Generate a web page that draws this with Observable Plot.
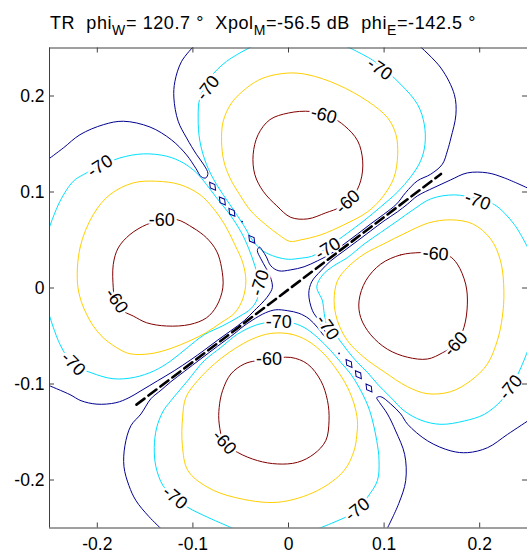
<!DOCTYPE html>
<html>
<head>
<meta charset="utf-8">
<script src="https://cdn.jsdelivr.net/npm/d3@7"></script>
<script src="https://cdn.jsdelivr.net/npm/@observablehq/plot@0.6"></script>
<style>
  html, body { margin: 0; padding: 0; background: #fff; }
</style>
</head>
<body>
<div id="chart"></div>
<script>
// ---- axes ----
const xDomain = [-0.25, 0.25];
const yDomain = [-0.25, 0.25];
const xTicks = [-0.2, -0.1, 0, 0.1, 0.2];
const yTicks = [-0.2, -0.1, 0, 0.1, 0.2];
const tickLabels = ["-0.2", "-0.1", "0", "0.1", "0.2"];

// ---- contour levels (dB) ----
const levels = [-75, -70, -65, -60];
const levelColors = ["#00008f", "#00dfff", "#ffcf00", "#800000"];

// ---- traced contour lines [x, y] ----
const top60 = [[0.000,0.1823],[0.0233,0.1839],[0.0442,0.1782],[0.0588,0.1688],[0.0724,0.1532],[0.0776,0.1324],[0.0755,0.1116],[0.0672,0.0949],[0.0547,0.0845],[0.0390,0.0783],[0.0202,0.0720],[0.0024,0.0736],[-0.0122,0.0855],[-0.0265,0.1008],[-0.0352,0.1181],[-0.0370,0.1389],[-0.0318,0.1597],[-0.0195,0.1753]];
const top65 = [[-0.0007,0.2239],[0.0202,0.2222],[0.0515,0.2118],[0.0829,0.1945],[0.1038,0.1771],[0.1124,0.1597],[0.1142,0.1389],[0.1103,0.1150],[0.0985,0.0949],[0.0826,0.0793],[0.0578,0.0658],[0.0338,0.0554],[0.0132,0.0502],[0.0014,0.0486],[-0.0101,0.0554],[-0.0240,0.0661],[-0.0394,0.0803],[-0.0509,0.0970],[-0.0613,0.1147],[-0.0676,0.1321],[-0.0700,0.1529],[-0.0683,0.1737],[-0.0596,0.1927],[-0.0439,0.2083],[-0.0265,0.2187]];
const top70 = [[-0.0385,0.2515],[-0.0648,0.2361],[-0.0822,0.2187],[-0.0927,0.1979],[-0.0945,0.1771],[-0.0927,0.1529],[-0.0857,0.1285],[-0.0752,0.1077],[-0.0613,0.0869],[-0.0474,0.0661],[-0.0370,0.0488],[-0.0269,0.0387],[-0.0133,0.0325],[0.0003,0.0299],[0.0118,0.0309],[0.0243,0.0330],[0.0338,0.0377],[0.0411,0.0418],[0.0505,0.0491],[0.0620,0.0574],[0.0787,0.0699],[0.0964,0.0845],[0.1142,0.1001],[0.1278,0.1157],[0.1382,0.1324],[0.1427,0.1493],[0.1421,0.1701],[0.1351,0.1910],[0.1177,0.2118],[0.0899,0.2361],[0.0600,0.2520]];

const left60 = [[-0.1170,0.0713],[-0.0997,0.0626],[-0.0857,0.0522],[-0.0752,0.0384],[-0.0700,0.0210],[-0.0687,0.0002],[-0.0752,-0.0188],[-0.0857,-0.0310],[-0.1031,-0.0380],[-0.1275,-0.0396],[-0.1484,-0.0362],[-0.1624,-0.0292],[-0.1752,-0.0227],[-0.1815,-0.0133],[-0.1833,0.0002],[-0.1833,0.0245],[-0.1781,0.0418],[-0.1658,0.0557],[-0.1484,0.0661],[-0.1327,0.0704]];
const left65 = [[-0.2202,0.0002],[-0.2181,0.0418],[-0.2042,0.0765],[-0.1867,0.0973],[-0.1624,0.1095],[-0.1379,0.1112],[-0.1136,0.1077],[-0.0927,0.0973],[-0.0791,0.0835],[-0.0666,0.0658],[-0.0561,0.0450],[-0.0478,0.0262],[-0.0446,0.0075],[-0.0478,-0.0112],[-0.0561,-0.0258],[-0.0707,-0.0362],[-0.0864,-0.0466],[-0.1031,-0.0549],[-0.1240,-0.0633],[-0.1449,-0.0685],[-0.1658,-0.0685],[-0.1797,-0.0622],[-0.1972,-0.0484],[-0.2111,-0.0276]];
const left70 = [[-0.2515,0.0595],[-0.2390,0.0904],[-0.2251,0.1112],[-0.2146,0.1181],[-0.1972,0.1269],[-0.1763,0.1355],[-0.1519,0.1397],[-0.1275,0.1373],[-0.1101,0.1303],[-0.0961,0.1199],[-0.0857,0.1077],[-0.0752,0.0939],[-0.0613,0.0765],[-0.0491,0.0574],[-0.0415,0.0408],[-0.0352,0.0231],[-0.0310,0.0054],[-0.0326,-0.0112],[-0.0394,-0.0216],[-0.0519,-0.0300],[-0.0687,-0.0393],[-0.0882,-0.0487],[-0.1055,-0.0619],[-0.1230,-0.0758],[-0.1404,-0.0862],[-0.1613,-0.0931],[-0.1836,-0.0945],[-0.2066,-0.0882],[-0.2251,-0.0796],[-0.2390,-0.0588],[-0.2510,-0.0258]];

const right60 = [[0.1382,0.0369],[0.1173,0.0345],[0.0964,0.0249],[0.0808,0.0075],[0.0738,-0.0133],[0.0755,-0.0307],[0.0860,-0.0487],[0.1035,-0.0638],[0.1244,-0.0721],[0.1453,-0.0740],[0.1612,-0.0674],[0.1748,-0.0584],[0.1835,-0.0411],[0.1871,-0.0168],[0.1853,0.0041],[0.1766,0.0249],[0.1678,0.0335],[0.1539,0.0366]];
const right65 = [[0.0996,0.0460],[0.1226,0.0574],[0.1466,0.0678],[0.1696,0.0710],[0.1926,0.0668],[0.2114,0.0512],[0.2218,0.0283],[0.2253,-0.0029],[0.2236,-0.0307],[0.2184,-0.0549],[0.2080,-0.0792],[0.1905,-0.0966],[0.1696,-0.1080],[0.1453,-0.1101],[0.1244,-0.1028],[0.0999,-0.0872],[0.0790,-0.0723],[0.0617,-0.0549],[0.0512,-0.0341],[0.0477,-0.0133],[0.0512,0.0075],[0.0617,0.0213],[0.0790,0.0353]];
const right70 = [[0.2522,0.0382],[0.2362,0.0661],[0.2153,0.0869],[0.1978,0.0928],[0.1735,0.0970],[0.1487,0.0928],[0.1312,0.0821],[0.1139,0.0699],[0.0964,0.0578],[0.0790,0.0457],[0.0617,0.0317],[0.0473,0.0231],[0.0358,0.0137],[0.0296,0.0012],[0.0355,-0.0133],[0.0374,-0.0268],[0.0408,-0.0411],[0.0512,-0.0515],[0.0617,-0.0653],[0.0721,-0.0775],[0.0826,-0.0879],[0.0930,-0.1000],[0.1069,-0.1139],[0.1208,-0.1278],[0.1386,-0.1377],[0.1595,-0.1420],[0.1839,-0.1385],[0.2048,-0.1316],[0.2222,-0.1177],[0.2323,-0.1039],[0.2431,-0.0830],[0.2522,-0.0601]];

const bottom60 = [[-0.0342,-0.0758],[-0.0203,-0.0742],[0.0024,-0.0723],[0.0199,-0.0792],[0.0338,-0.0966],[0.0408,-0.1174],[0.0424,-0.1382],[0.0390,-0.1590],[0.0268,-0.1728],[0.0094,-0.1816],[-0.0115,-0.1833],[-0.0324,-0.1798],[-0.0533,-0.1712],[-0.0673,-0.1608],[-0.0725,-0.1416],[-0.0725,-0.1244],[-0.0690,-0.1070],[-0.0603,-0.0896],[-0.0464,-0.0792]];
const bottom65 = [[-0.0185,-0.0473],[0.0024,-0.0480],[0.0199,-0.0549],[0.0372,-0.0688],[0.0512,-0.0862],[0.0617,-0.1035],[0.0686,-0.1208],[0.0721,-0.1382],[0.0714,-0.1538],[0.0686,-0.1694],[0.0581,-0.1902],[0.0303,-0.2110],[-0.0115,-0.2232],[-0.0568,-0.2180],[-0.0846,-0.2076],[-0.1052,-0.1902],[-0.1110,-0.1642],[-0.1108,-0.1348],[-0.1073,-0.1139],[-0.0951,-0.0966],[-0.0777,-0.0792],[-0.0568,-0.0636],[-0.0373,-0.0529]];
const bottom70 = [[-0.0551,-0.2516],[-0.0846,-0.2388],[-0.1055,-0.2284],[-0.1195,-0.2180],[-0.1313,-0.2058],[-0.1387,-0.1861],[-0.1404,-0.1660],[-0.1379,-0.1455],[-0.1310,-0.1281],[-0.1230,-0.1174],[-0.1055,-0.0966],[-0.0882,-0.0758],[-0.0707,-0.0619],[-0.0533,-0.0480],[-0.0359,-0.0393],[-0.0237,-0.0362],[-0.0101,-0.0352],[0.0024,-0.0359],[0.0163,-0.0411],[0.0303,-0.0515],[0.0442,-0.0653],[0.0547,-0.0775],[0.0651,-0.0896],[0.0738,-0.1035],[0.0808,-0.1174],[0.0860,-0.1312],[0.0923,-0.1590],[0.0947,-0.1798],[0.0930,-0.2006],[0.0826,-0.2180],[0.0721,-0.2318],[0.0477,-0.2440],[0.0285,-0.2516]];

// -75 dB lines (outer flanks, channels and central star)
const null75A = [[0.1372,0.2520],[0.1595,0.2291],[0.1735,0.2014],[0.1751,0.1805],[0.1699,0.1563],[0.1662,0.1428],[0.1609,0.1289],[0.1487,0.1185],[0.1348,0.1116],[0.1226,0.0994],[0.1132,0.0876],[0.0996,0.0767],[0.0860,0.0668],[0.0721,0.0561],[0.0581,0.0457],[0.0442,0.0356],[0.0303,0.0283],[0.0163,0.0221],[0.0024,0.0189],[-0.0101,0.0179],[-0.0185,0.0231],[-0.0232,0.0325],[-0.0274,0.0392],[-0.0303,0.0426],[-0.0326,0.0392],[-0.0289,0.0304],[-0.0237,0.0210],[-0.0190,0.0117],[-0.0169,0.0005],[-0.0206,-0.0071],[-0.0255,-0.0133],[-0.0359,-0.0237],[-0.0464,-0.0341],[-0.0603,-0.0445],[-0.0742,-0.0544],[-0.0882,-0.0648],[-0.1021,-0.0747],[-0.1195,-0.0862],[-0.1369,-0.0966],[-0.1543,-0.1070],[-0.1669,-0.1143],[-0.1805,-0.1195],[-0.2003,-0.1210],[-0.2170,-0.1174],[-0.2285,-0.1111],[-0.2515,-0.1012]];
const null75B = [[0.2522,0.1032],[0.2257,0.1147],[0.2083,0.1199],[0.1871,0.1199],[0.1696,0.1126],[0.1522,0.1046],[0.1348,0.0959],[0.1244,0.0873],[0.1139,0.0793],[0.0999,0.0699],[0.0860,0.0595],[0.0721,0.0491],[0.0581,0.0387],[0.0442,0.0283],[0.0338,0.0179],[0.0243,0.0065],[0.0212,-0.0060],[0.0251,-0.0237],[0.0320,-0.0341],[0.0390,-0.0463],[0.0442,-0.0532],[0.0390,-0.0515],[0.0303,-0.0411],[0.0215,-0.0321],[0.0108,-0.0263],[-0.0007,-0.0237],[-0.0133,-0.0227],[-0.0240,-0.0258],[-0.0380,-0.0336],[-0.0485,-0.0409],[-0.0568,-0.0477],[-0.0742,-0.0606],[-0.0916,-0.0737],[-0.1091,-0.0870],[-0.1230,-0.0976],[-0.1334,-0.1065],[-0.1439,-0.1153],[-0.1543,-0.1312],[-0.1648,-0.1434],[-0.1711,-0.1642],[-0.1721,-0.1861],[-0.1669,-0.2058],[-0.1596,-0.2214],[-0.1460,-0.2381],[-0.1324,-0.2516]];
const null75C = [[-0.0990,0.2520],[-0.1118,0.2361],[-0.1188,0.2153],[-0.1199,0.1979],[-0.1154,0.1737],[-0.1066,0.1563],[-0.0961,0.1389],[-0.0885,0.1282],[-0.0843,0.1194],[-0.0864,0.1147],[-0.0911,0.1157],[-0.0969,0.1246],[-0.1066,0.1386],[-0.1223,0.1542],[-0.1449,0.1677],[-0.1728,0.1737],[-0.1937,0.1701],[-0.2181,0.1597],[-0.2355,0.1459],[-0.2515,0.1339]];
const null75D = [[0.1027,-0.2516],[0.1153,-0.2246],[0.1226,-0.2006],[0.1215,-0.1733],[0.1121,-0.1489],[0.1035,-0.1312],[0.0954,-0.1195],[0.0923,-0.1143],[0.0965,-0.1132],[0.1069,-0.1208],[0.1174,-0.1312],[0.1247,-0.1420],[0.1456,-0.1593],[0.1699,-0.1697],[0.1874,-0.1715],[0.2083,-0.1663],[0.2292,-0.1524],[0.2522,-0.1372]];

// small closed -75 islands along the null line
const islandX = [-0.0794, -0.0692, -0.0592, -0.0384, 0.0633, 0.0731, 0.0842];
const islandY = [0.1060, 0.0907, 0.0788, 0.0507, -0.0786, -0.0903, -0.1042];
const specX = [-0.0485, 0.0529];
const specY = [0.0692, -0.0682];

// contour labels
const labelText = ["-70","-70","-60","-60","-70","-60","-60","-70","-70","-70","-70","-70","-70","-60","-60","-70","-60","-60","-70","-70"];
const labelX = [0.0954,-0.0843,0.0369,0.0620,-0.1972,-0.1327,-0.1799,-0.2251,-0.0300,0.0411,-0.0101,0.0408,0.1978,0.1539,0.1748,0.2323,-0.0203,-0.0673,-0.1188,0.0721];
const labelY = [0.2281,0.2083,0.1802,0.0897,0.1269,0.0704,-0.0133,-0.0789,0.0054,0.0410,-0.0352,-0.0411,0.0907,0.0356,-0.0584,-0.1035,-0.0747,-0.1608,-0.2183,-0.2308];
const labelAngle = [35,-52,15,-42,-33,0,55,45,-72,-32,0,55,20,5,-48,-50,0,48,40,-38];

// principal-plane (dashed) line end points
const dashX = [-0.159, 0.1595];
const dashY = [-0.1215, 0.1188];

// title pieces
const titleParts = [["TR  phi", false], ["W", true], ["= 120.7 °  Xpol", false], ["M", true], ["=-56.5 dB  phi", false], ["E", true], ["=-142.5 °", false]];

// ---- build tables ----
const contours = [
  {id: "T60", level: -60, closed: true, pts: top60},
  {id: "T65", level: -65, closed: true, pts: top65},
  {id: "T70", level: -70, closed: false, pts: top70},
  {id: "L60", level: -60, closed: true, pts: left60},
  {id: "L65", level: -65, closed: true, pts: left65},
  {id: "L70", level: -70, closed: false, pts: left70},
  {id: "R60", level: -60, closed: true, pts: right60},
  {id: "R65", level: -65, closed: true, pts: right65},
  {id: "R70", level: -70, closed: false, pts: right70},
  {id: "B60", level: -60, closed: true, pts: bottom60},
  {id: "B65", level: -65, closed: true, pts: bottom65},
  {id: "B70", level: -70, closed: false, pts: bottom70},
  {id: "A75", level: -75, closed: false, pts: null75A},
  {id: "B75", level: -75, closed: false, pts: null75B},
  {id: "C75", level: -75, closed: false, pts: null75C},
  {id: "D75", level: -75, closed: false, pts: null75D}
];
const rows = contours.flatMap(c => c.pts.map(([x, y]) => ({x, y, id: c.id, level: c.level, closed: c.closed})));
const islands = islandX.map((x, i) => ({x, y: islandY[i]}));
const specks = specX.map((x, i) => ({x, y: specY[i]}));
const labels = labelText.map((t, i) => ({t, x: labelX[i], y: labelY[i], a: labelAngle[i]}));
const dash = dashX.map((x, i) => ({x, y: dashY[i]}));

const mL = 49, mR = 0, mT = 47.5, mB = 26.5, W = 527, H = 554;
const fW = W - mL - mR, fH = H - mT - mB;
const axisColor = "#404040";
const font = "Liberation Sans, Arial, Helvetica, sans-serif";

const svg = Plot.plot({
  width: W, height: H,
  marginLeft: mL, marginRight: mR, marginTop: mT, marginBottom: mB,
  x: {domain: xDomain},
  y: {domain: yDomain},
  color: {type: "ordinal", domain: levels, range: levelColors},
  style: {fontFamily: font, fontSize: "17.5px", background: "#fff", color: "#000"},
  marks: [
    Plot.line(rows.filter(d => d.closed), {x: "x", y: "y", z: "id", stroke: "level", curve: "catmull-rom-closed", strokeWidth: 1, clip: true}),
    Plot.line(rows.filter(d => !d.closed), {x: "x", y: "y", z: "id", stroke: "level", curve: "catmull-rom", strokeWidth: 1, clip: true}),
    Plot.dot(islands, {x: "x", y: "y", symbol: "diamond", r: 3, stroke: levelColors[0], fill: "none", strokeWidth: 1, rotate: -37}),
    Plot.dot(specks, {x: "x", y: "y", r: 0.9, fill: levelColors[0], stroke: "none"}),
    Plot.text(labels, {x: "x", y: "y", text: "t", rotate: "a", fontSize: 18, fill: "#fff", stroke: "#fff", strokeWidth: 5}),
    Plot.text(labels, {x: "x", y: "y", text: "t", rotate: "a", fontSize: 18, fill: "#000"}),
    Plot.line(dash, {x: "x", y: "y", stroke: "#000", strokeWidth: 2.6, strokeDasharray: "10,5"}),
    Plot.ruleX([xDomain[0]], {stroke: axisColor}),
    Plot.ruleY(yDomain, {stroke: axisColor}),
    Plot.tickX(xTicks, {x: d => d, insetTop: fH - 5, stroke: axisColor}),
    Plot.tickX(xTicks, {x: d => d, insetBottom: fH - 5, stroke: axisColor}),
    Plot.tickY(yTicks, {y: d => d, insetRight: fW - 5, stroke: axisColor}),
    Plot.tickY(yTicks, {y: d => d, insetLeft: fW - 5, stroke: axisColor}),
    Plot.axisX({ticks: xTicks, label: null, tickSize: 0, tickPadding: 10, fontSize: 17.5, tickFormat: d => tickLabels[xTicks.indexOf(d)] ?? String(d)}),
    Plot.axisY({ticks: yTicks, label: null, tickSize: 0, tickPadding: 5, fontSize: 17.5, tickFormat: d => tickLabels[yTicks.indexOf(d)] ?? String(d)})
  ]
});

document.getElementById("chart").appendChild(svg);

// title with subscripts
const title = d3.select(svg).append("text")
  .attr("x", 263).attr("y", 29)
  .attr("text-anchor", "middle")
  .attr("fill", "#000")
  .style("font-family", font)
  .style("font-size", "18px")
  .style("letter-spacing", "0.6px")
  .style("white-space", "pre");
let sub = false;
titleParts.forEach(([s, isSub]) => {
  const t = title.append("tspan").text(s);
  if (isSub && !sub) { t.attr("dy", 6).style("font-size", "14px"); sub = true; }
  else if (isSub) { t.style("font-size", "14px"); }
  else if (sub) { t.attr("dy", -6); sub = false; }
});
</script>
</body>
</html>
